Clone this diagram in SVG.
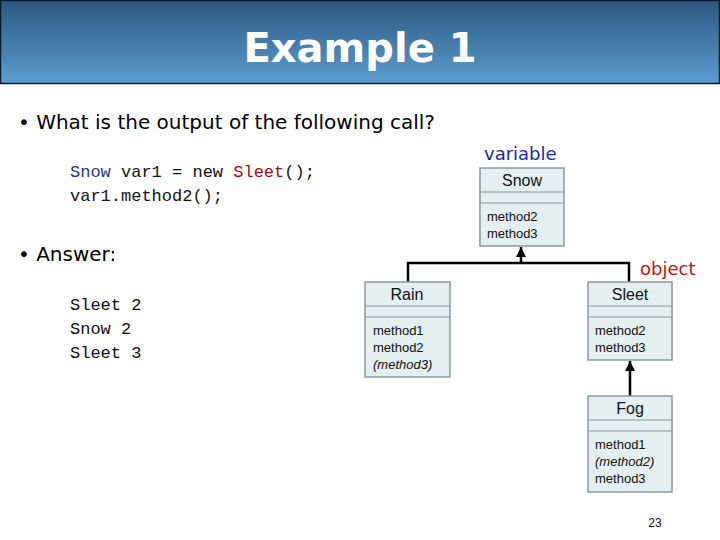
<svg xmlns="http://www.w3.org/2000/svg" width="720" height="540" viewBox="0 0 720 540">
<defs>
<linearGradient id="hg" x1="0" y1="0" x2="0" y2="1"><stop offset="0" stop-color="#2c5980"/><stop offset="1" stop-color="#5b9dd0"/></linearGradient>
<marker id="ar" viewBox="0 0 10 10" refX="10" refY="5" markerWidth="4" markerHeight="4" orient="auto"><path d="M0,0 L10,5 L0,10 z" fill="#000"/></marker>
</defs>
<style>
.box{fill:#e3eff1;stroke:#8a9aa0;stroke-width:1.5}
.sep{stroke:#8a9aa0;stroke-width:1.2}
.nm{font-family:'Liberation Sans',Arial,sans-serif;font-size:16px;text-anchor:middle;fill:#111}
.m{font-family:'Liberation Sans',Arial,sans-serif;font-size:13px;fill:#111}
.code{font-family:'Liberation Mono','Courier New',monospace;font-size:17px;fill:#111}
.txt{font-family:Verdana,'DejaVu Sans',sans-serif;font-size:20px;fill:#000}
.con{stroke:#000;stroke-width:2.5;fill:none}
</style>
<rect x="0.5" y="0.5" width="719" height="83" fill="url(#hg)" stroke="#0d1a2a" stroke-width="1.5"/>
<text x="360" y="62" text-anchor="middle" font-family="'DejaVu Sans',Verdana,sans-serif" font-weight="bold" font-size="40" fill="#fff">Example 1</text>
<text x="18" y="129" class="txt">• What is the output of the following call?</text>
<text x="70" y="177" class="code"><tspan fill="#1a3a8a">Snow</tspan> var1 = new <tspan fill="#a01010">Sleet</tspan>();</text>
<text x="70" y="201" class="code">var1.method2();</text>
<text x="18" y="261" class="txt">• Answer:</text>
<text x="70" y="310" class="code">Sleet 2</text>
<text x="70" y="334" class="code">Snow 2</text>
<text x="70" y="358" class="code">Sleet 3</text>
<text x="484" y="160" font-family="Verdana,'DejaVu Sans',sans-serif" font-size="18" fill="#1a2a9a">variable</text>
<text x="640" y="275" font-family="Verdana,'DejaVu Sans',sans-serif" font-size="18" fill="#cc1111">object</text>
<g id="connectors">
<path class="con" d="M408,282 V263 H629 V282"/>
<line class="con" x1="521" y1="263" x2="521" y2="247" marker-end="url(#ar)"/>
<line class="con" x1="630" y1="396" x2="630" y2="361" marker-end="url(#ar)"/>
</g>
<g id="snow"><rect class="box" x="480" y="168" width="84" height="78"/><line class="sep" x1="480" y1="192" x2="564" y2="192"/><line class="sep" x1="480" y1="203" x2="564" y2="203"/><text class="nm" x="522" y="186">Snow</text><text class="m" x="487" y="221">method2</text><text class="m" x="487" y="238">method3</text></g>
<g id="rain"><rect class="box" x="365" y="282" width="85" height="95"/><line class="sep" x1="365" y1="306" x2="450" y2="306"/><line class="sep" x1="365" y1="317" x2="450" y2="317"/><text class="nm" x="407" y="300">Rain</text><text class="m" x="373" y="335">method1</text><text class="m" x="373" y="352">method2</text><text class="m" x="373" y="369" font-style="italic">(method3)</text></g>
<g id="sleet"><rect class="box" x="588" y="282" width="84" height="78"/><line class="sep" x1="588" y1="306" x2="672" y2="306"/><line class="sep" x1="588" y1="317" x2="672" y2="317"/><text class="nm" x="630" y="300">Sleet</text><text class="m" x="595" y="335">method2</text><text class="m" x="595" y="352">method3</text></g>
<g id="fog"><rect class="box" x="588" y="396" width="84" height="96"/><line class="sep" x1="588" y1="420" x2="672" y2="420"/><line class="sep" x1="588" y1="431" x2="672" y2="431"/><text class="nm" x="630" y="414">Fog</text><text class="m" x="595" y="449">method1</text><text class="m" x="595" y="466" font-style="italic">(method2)</text><text class="m" x="595" y="483">method3</text></g>
<text x="655" y="527" text-anchor="middle" font-family="'Liberation Sans',Arial,sans-serif" font-size="12" fill="#111">23</text>
</svg>
